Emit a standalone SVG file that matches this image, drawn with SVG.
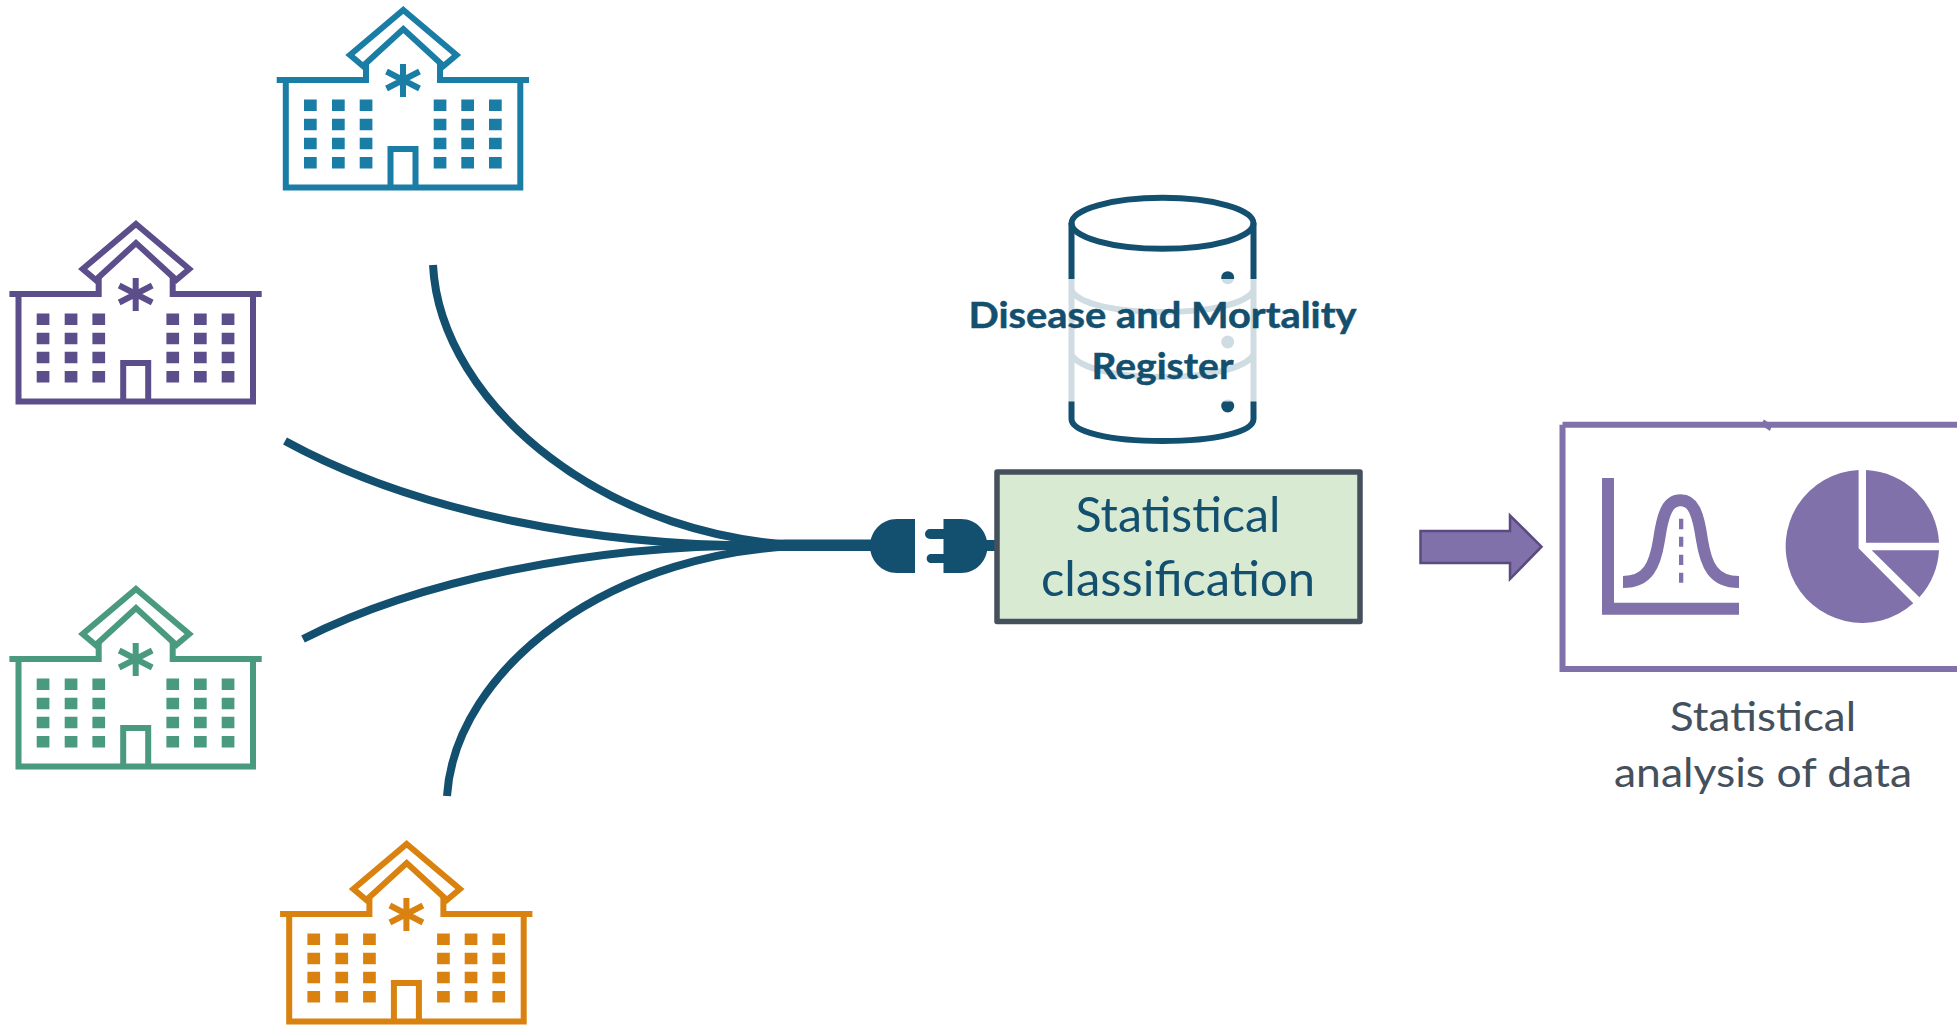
<svg xmlns="http://www.w3.org/2000/svg" width="1957" height="1026" viewBox="0 0 1957 1026">
<style>
.l{fill:none;stroke:currentColor;stroke-width:6}
.w{fill:currentColor}
.c{fill:none;stroke:#134f6e;stroke-width:8}
.d{fill:#134f6e}
.t{font-family:Lato,"Liberation Sans",sans-serif;text-anchor:middle}
.p{fill:#8071aa}
</style>
<defs>
<symbol id="hospital" overflow="visible" width="1" height="1">
<path class="l" d="M143.3 10 L196.5 55 L183.5 66 L143.3 29 L103 66 L90 55 Z"/>
<path class="l" d="M16.7 80 H106 V62 M269 80 H180 V62 M25.8 80 V187.5 H260.3 V80 M130.5 187.5 V149 H155.5 V187.5"/>
<path class="l" d="M143 64 V97 M126.5 71.5 L159.5 88.5 M159.5 71.5 L126.5 88.5"/>
<path class="w" d="M44 99.5h12.7v11.5H44zM72 99.5h12.7v11.5H72zM99.7 99.5h12.7v11.5H99.7zM173.7 99.5h12.7v11.5h-12.7zM201.3 99.5h12.7v11.5h-12.7zM229 99.5h12.7v11.5H229zM44 118.7h12.7v11.5H44zM72 118.7h12.7v11.5H72zM99.7 118.7h12.7v11.5H99.7zM173.7 118.7h12.7v11.5h-12.7zM201.3 118.7h12.7v11.5h-12.7zM229 118.7h12.7v11.5H229zM44 137.7h12.7v11.5H44zM72 137.7h12.7v11.5H72zM99.7 137.7h12.7v11.5H99.7zM173.7 137.7h12.7v11.5h-12.7zM201.3 137.7h12.7v11.5h-12.7zM229 137.7h12.7v11.5H229zM44 157h12.7v11.5H44zM72 157h12.7v11.5H72zM99.7 157h12.7v11.5H99.7zM173.7 157h12.7v11.5h-12.7zM201.3 157h12.7v11.5h-12.7zM229 157h12.7v11.5H229z"/>
</symbol>
</defs>
<rect width="1957" height="1026" fill="#fff"/>
<g id="connectors">
<path class="c" d="M433 265 C440 405 610 545.5 820 545.5"/>
<path class="c" d="M285 441 C420 515 600 545.5 760 545.5"/>
<path class="c" d="M303 639 C420 580 590 545.5 760 545.5"/>
<path class="c" d="M447 796 C455 670 610 545.5 820 545.5"/>
<path class="d" d="M740 541.5 L785 539.5 H875 V551 H785 L740 549.5 Z"/>
</g>
<g id="hospital-teal" color="#1a7da6"><use href="#hospital" x="260" y="0"/></g>
<g id="hospital-purple" color="#5b4e8a"><use href="#hospital" x="-7.3" y="214"/></g>
<g id="hospital-green" color="#4a9a7f"><use href="#hospital" x="-7.3" y="579"/></g>
<g id="hospital-orange" color="#d9820f"><use href="#hospital" x="263.4" y="834"/></g>
<g id="register">
<ellipse cx="1162.5" cy="223.3" rx="91" ry="25.5" fill="none" stroke="#134f6e" stroke-width="6"/>
<path d="M1071.5 223 V419 C1071.5 432 1110 441 1162.5 441 C1215 441 1253.5 432 1253.5 419 V223" fill="none" stroke="#134f6e" stroke-width="6"/>
<path d="M1071.5 291 C1080 304 1115 312 1162.5 312 C1210 312 1245 304 1253.5 291 M1071.5 355 C1080 368 1115 377 1162.5 377 C1210 377 1245 368 1253.5 355" fill="none" stroke="#134f6e" stroke-width="6"/>
<circle class="d" cx="1227.7" cy="277.7" r="6.5"/><circle class="d" cx="1227.7" cy="342" r="6.5"/><circle class="d" cx="1227.7" cy="406" r="6.5"/>
<rect x="1066" y="279" width="193" height="122.5" fill="#fff" fill-opacity=".8"/>
<text class="t" x="1162.5" y="328" font-size="37" font-weight="700" fill="#134f6e" stroke="#134f6e" stroke-width=".5" textLength="388" lengthAdjust="spacingAndGlyphs">Disease and Mortality</text>
<text class="t" x="1162.5" y="379" font-size="37" font-weight="700" fill="#134f6e" stroke="#134f6e" stroke-width=".5" textLength="142" lengthAdjust="spacingAndGlyphs">Register</text>
</g>
<g id="plug">
<path class="d" d="M915 519 H897 C881 519 870 532 870 546 C870 560 881 573 897 573 H915 Z"/>
<path class="d" d="M943.5 519 H961 C977 519 987.5 532 987.5 546 C987.5 560 977 573 961 573 H943.5 V563 H930 A4.7 4.7 0 0 1 930 554 H943.5 V539 H930 A5 5 0 0 1 930 529 H943.5 Z"/>
<rect class="d" x="985" y="540" width="12" height="11"/>
</g>
<g id="classification">
<rect x="997" y="472" width="363" height="149.5" fill="#d9ead3" stroke="#44505c" stroke-width="5.5" stroke-linejoin="round"/>
<text class="t" x="1178" y="532" font-size="48" fill="#134f6e" textLength="205" lengthAdjust="spacingAndGlyphs">Statistical</text>
<text class="t" x="1178" y="596" font-size="48" fill="#134f6e" textLength="274" lengthAdjust="spacingAndGlyphs">classification</text>
</g>
<g id="arrow">
<path d="M1420.5 531 H1510 V515.5 L1541.5 546.7 L1510 579 V563 H1420.5 Z" fill="#8071aa" stroke="#5a4a7f" stroke-width="2.5"/>
</g>
<g id="analysis">
<path d="M1562.5 424.7 H1965 M1562.5 424.7 V669 H1965" fill="none" stroke="#8071aa" stroke-width="6"/>
<path class="p" d="M1762 423 L1764 419.5 L1772 425 L1770 431 L1764 427 Z"/>
<path class="p" d="M1602 478 H1614 V602.7 H1739 V614.7 H1602 Z"/>
<path d="M1623 582 C1648 582 1655 565 1659 540 C1663 512 1668 500.3 1680.6 500.3 C1693 500.3 1698 512 1702 540 C1706 565 1713 582 1739 582" fill="none" stroke="#8071aa" stroke-width="12"/>
<path class="p" d="M1679 518.7h4.3v10.6h-4.3zM1679 536.7h4.3v10h-4.3zM1679 554.7h4.3v10.3h-4.3zM1679 572.7h4.3v10h-4.3z"/>
<path class="p" d="M1858.6 470 A76.5 76.5 0 1 0 1913.3 603.3 L1858.6 548.3 Z"/>
<path class="p" d="M1866 470 A76.5 76.5 0 0 1 1939 542.7 H1866 Z"/>
<path class="p" d="M1871.7 550.3 H1939 A76.5 76.5 0 0 1 1919.4 597.3 Z"/>
<text class="t" x="1763" y="731" font-size="41" fill="#44505c" textLength="186" lengthAdjust="spacingAndGlyphs">Statistical</text>
<text class="t" x="1763" y="787" font-size="41" fill="#44505c" textLength="298" lengthAdjust="spacingAndGlyphs">analysis of data</text>
</g>
</svg>
